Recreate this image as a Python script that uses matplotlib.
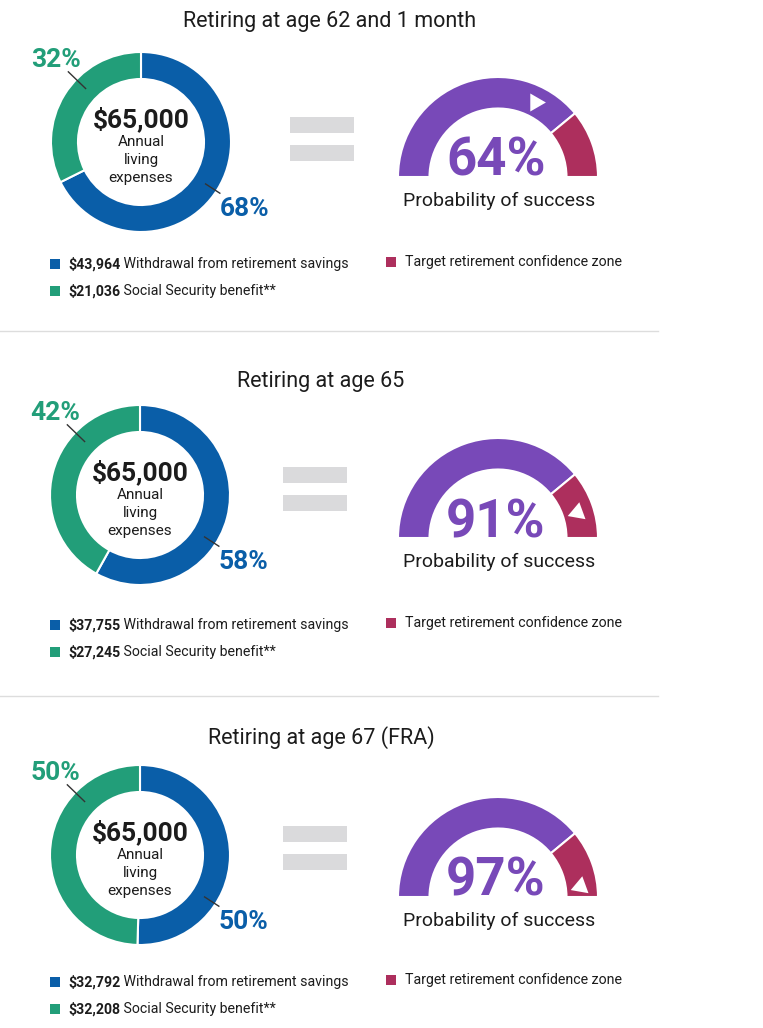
import numpy as np
import matplotlib.pyplot as plt
from matplotlib.patches import Wedge, Rectangle

# chart data
titles = ['Retiring at age 62 and 1 month', 'Retiring at age 65', 'Retiring at age 67 (FRA)']
expenses = [65000, 65000, 65000]
withdrawal = [43964, 37755, 32792]
social_security = [21036, 27245, 32208]
withdrawal_pct = [68, 58, 50]
ss_pct = [32, 42, 50]
success = [64, 91, 97]
zone_start = 78  # target retirement confidence zone starts here (%)

# colours
BLUE = '#0a5ea8'
GREEN = '#229e79'
PURPLE = '#7849b8'
MAROON = '#ad2f5d'
GREY = '#dadadc'
INK = '#1c1c1c'

# layout in image pixels (y measured from the top)
W, H = 763, 1028
title_x = [330, 321, 321]
title_y = [21, 381, 738]
donut_c = [(141, 142), (140, 495), (140, 855)]
gauge_c = [(498, 177), (498, 538), (498, 897)]
eq_xy = [(290, 117), (283, 467), (283, 826)]
legend_y = [264, 625, 982]
pointer_dir = [0, 200, 200]
pointer_shift = [-1, 2, 2.5]  # degrees
sep_y = [331, 696]

plt.rcParams['font.family'] = ['Roboto', 'DejaVu Sans']

fig = plt.figure(figsize=(W / 100, H / 100), dpi=100)
ax = fig.add_axes([0, 0, 1, 1])


def up(y):
    return H - y


for i in range(3):
    # title
    ax.text(title_x[i], up(title_y[i]), titles[i], fontsize=15.5, color=INK,
            ha='center', va='center')

    # donut
    cx, cy = donut_c[i][0], up(donut_c[i][1])
    ax.pie([withdrawal[i], social_security[i]], colors=[BLUE, GREEN],
           startangle=90, counterclock=False, radius=90, center=(cx, cy),
           wedgeprops=dict(width=27, edgecolor='white', linewidth=1.5))
    ax.text(cx, cy + 23, f'${expenses[i]:,}', fontsize=19, fontweight='bold',
            color=INK, ha='center', va='center')
    ax.text(cx, cy - 18, 'Annual\nliving\nexpenses', fontsize=11, color=INK,
            ha='center', va='center', linespacing=1.35)

    # leader lines + percent labels
    for ang, r0, r1, rl, txt, col in [(136, 77, 101, 118, ss_pct[i], GREEN),
                                      (-33, 77, 94, 123, withdrawal_pct[i], BLUE)]:
        a = np.radians(ang)
        ax.plot([cx + r0 * np.cos(a), cx + r1 * np.cos(a)],
                [cy + r0 * np.sin(a), cy + r1 * np.sin(a)], color='#333333', lw=1)
        ax.text(cx + rl * np.cos(a), cy + rl * np.sin(a), f'{txt}%', fontsize=19,
                fontweight='bold', color=col, ha='center', va='center')

    # equals sign
    ex, ey = eq_xy[i]
    for k in range(2):
        ax.add_patch(Rectangle((ex, up(ey + 16 + k * 28)), 64, 16, color=GREY, lw=0))

    # gauge
    gx, gy = gauge_c[i][0], up(gauge_c[i][1])
    r_out, r_in = 100, 68.5
    split = 180 * (1 - zone_start / 100)
    ax.add_patch(Wedge((gx, gy), r_out, split, 180, width=r_out - r_in,
                       facecolor=PURPLE, edgecolor='white', lw=1.5))
    ax.add_patch(Wedge((gx, gy), r_out, 0, split, width=r_out - r_in,
                       facecolor=MAROON, edgecolor='white', lw=1.5))
    th = np.radians(180 * (1 - success[i] / 100) + pointer_shift[i])
    rm = (r_out + r_in) / 2 - 1
    ax.plot(gx + rm * np.cos(th), gy + rm * np.sin(th), linestyle='none',
            marker=(3, 0, pointer_dir[i] - 90), ms=15, color='white', mew=0)
    ax.text(gx - 2, gy + 1, f'{success[i]}%', fontsize=38, fontweight='bold',
            color=PURPLE, ha='center', va='baseline')
    ax.text(gx + 1, gy - 24, 'Probability of success', fontsize=14, color=INK,
            ha='center', va='center')

    # legend
    ly = up(legend_y[i])
    fs = 10.2
    ax.add_patch(Rectangle((50, ly - 5), 10, 10, color=BLUE, lw=0))
    ax.add_patch(Rectangle((50, ly - 32), 10, 10, color=GREEN, lw=0))
    ax.add_patch(Rectangle((386, ly - 3), 10, 10, color=MAROON, lw=0))
    t1 = ax.text(68, ly, f'${withdrawal[i]:,}', fontsize=fs, fontweight='bold',
                 color=INK, ha='left', va='center')
    ax.annotate(' Withdrawal from retirement savings', xy=(1, 0), xycoords=t1,
                fontsize=fs, color=INK, ha='left', va='bottom')
    t2 = ax.text(68, ly - 27, f'${social_security[i]:,}', fontsize=fs,
                 fontweight='bold', color=INK, ha='left', va='center')
    ax.annotate(' Social Security benefit**', xy=(1, 0), xycoords=t2,
                fontsize=fs, color=INK, ha='left', va='bottom')
    ax.text(405, ly + 2, 'Target retirement confidence zone', fontsize=fs,
            color=INK, ha='left', va='center')

for y in sep_y:
    ax.plot([0, 658], [up(y), up(y)], color='#dddddd', lw=1)

ax.set_xlim(0, W)
ax.set_ylim(0, H)
ax.set_aspect('equal')
ax.axis('off')
fig.savefig('out.png', dpi=100)
